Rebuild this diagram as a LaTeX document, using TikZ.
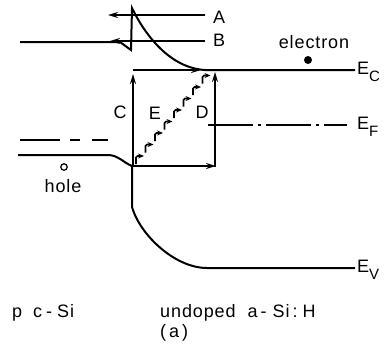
\documentclass[tikz,border=0pt]{standalone}
\usepackage{fontspec}
\setmainfont[LetterSpace=5]{Liberation Sans}
\usetikzlibrary{arrows.meta}
\tikzset{
  band/.style   ={line width=2pt},
  trans/.style  ={line width=1.7pt, -{Stealth[length=10pt,width=6pt]}},
  hop/.style    ={line width=1.7pt, -{Stealth[length=6pt,width=5pt]}, rounded corners=1.5pt},
  lbl/.style    ={font=\fontsize{18}{18}\selectfont, inner sep=0pt},
  lvl/.style    ={lbl, anchor=west},
}
\newcommand{\lvlname}[1]{E\raisebox{-0.4em}{\fontsize{15}{15}\selectfont #1}}

\begin{document}
\begin{tikzpicture}[x=1pt,y=-1pt]
  \useasboundingbox (0,0) rectangle (385,343);

  % conduction band: c-Si, spike, a-Si:H
  \draw[band] (20,42) -- (120,42) -- (131,50) -- (132,8)
      .. controls (145,35) and (170,68) .. (205,70) -- (355,70);
  % valence band
  \draw[band] (18,155) -- (108,155) .. controls (118,155) and (124,163) .. (132,166)
      -- (132,207) .. controls (140,235) and (175,268) .. (207,268) -- (355,268);
  % Fermi levels
  \draw[line width=1.6pt, dash pattern=on 40pt off 10pt on 10pt off 12pt on 16pt off 30pt]
      (20,140) -- (108,140);
  \draw[line width=1.6pt, dash pattern=on 45pt off 5pt on 3pt off 5pt]
      (208,125) -- (347,125);

  % level labels
  \node[lvl] (ec) at (357,72)  {\lvlname{C}};
  \node[lvl] (ef) at (357,127) {\lvlname{F}};
  \node[lvl] (ev) at (357,270) {\lvlname{V}};

  % carriers
  \node[lbl] (elab) at (314,42) {electron};
  \node[circle, fill, inner sep=0pt, minimum size=8pt] (el) at (308,60) {};
  \node[circle, draw, line width=1.2pt, inner sep=0pt, minimum size=6.5pt] (ho) at (64,167) {};
  \node[lbl] (hlab) at (63,186) {hole};

  % transport paths
  \coordinate (ia) at (108,15);
  \coordinate (ib) at (110,41);
  \coordinate (vb) at (133,166);
  \coordinate (cb) at (133,74);
  \coordinate (dtop) at (215,72);
  \node[lvl] (la) at (213,17) {A};
  \node[lvl] (lb) at (213,40) {B};
  \draw[trans] ([xshift=-8pt]la.west |- ia) -- (ia);
  \draw[trans] ([xshift=-8pt]lb.west |- ib) -- (ib);
  \draw[trans] (vb) -- (cb);
  \draw[trans] (133,70) -- (201,70);
  \draw[trans] (vb) -- (216,166);
  \draw[trans] (215,167) -- (dtop);
  \foreach \i in {0,...,7}
    \draw[hop] ({136+9.5*\i},{164-11.5*\i}) |- ++(8,-8);

  \node[lbl] (lc) at (120,112) {C};
  \node[lbl] (le) at (155,113) {E};
  \node[lbl] (ld) at (202,112) {D};

  % regions
  \node[lvl] (pside) at (12,313) {p\hspace{11pt}c\hspace{4pt}-\hspace{5pt}Si};
  \node[lvl] (nside) at (160,313)
      {undoped\hspace{12pt}a\hspace{3pt}-\hspace{6pt}Si\hspace{3pt}:\hspace{5pt}H};
  \node[lvl] (cap) at (160,333) {(\,a\,)};
\end{tikzpicture}
\end{document}
